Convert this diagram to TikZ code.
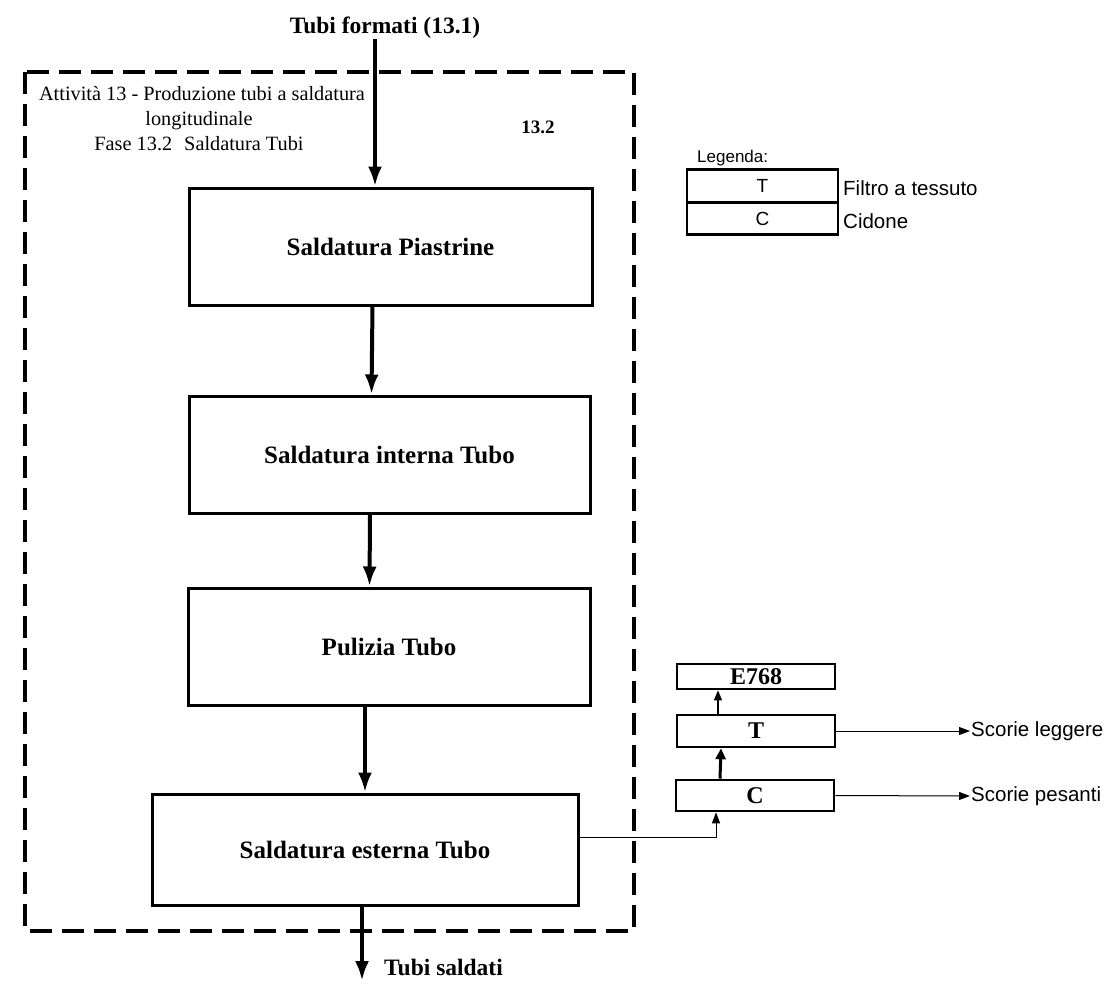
\documentclass[tikz,border=0pt]{standalone}
\usepackage{fontspec}
\setmainfont{Liberation Serif}
\newfontfamily\arialfont{Liberation Sans}
\usetikzlibrary{arrows.meta}
\begin{document}
\begin{tikzpicture}[x=1pt,y=-1pt,
  procbox/.style={draw, line width=3pt, inner sep=0pt, font=\fontsize{25}{28}\selectfont\bfseries},
  smallbox/.style={draw, line width=2.6pt, inner sep=0pt, minimum width=158pt, font=\fontsize{24}{26}\selectfont\bfseries},
  legbox/.style={draw, line width=2.6pt, inner sep=0pt, minimum width=151pt, minimum height=32.5pt, font=\arialfont\fontsize{19}{21}\selectfont},
  flow/.style={line width=4pt, -{Latex[length=20pt,width=14pt]}},
  thinflow/.style={line width=1pt, -{Triangle[length=11pt,width=8pt]}},
  boldlabel/.style={font=\fontsize{23.5}{26}\selectfont\bfseries, inner sep=1pt},
  areatext/.style={font=\fontsize{20.3}{24}\selectfont, anchor=base, inner sep=0pt},
  sanslabel/.style={font=\arialfont\fontsize{20.5}{22}\selectfont, inner sep=1pt}
]
\useasboundingbox (0,0) rectangle (1108,983);

% activity area
\draw[line width=4pt, dash pattern=on 22pt off 10pt] (25,72) rectangle (634,931);
\node[areatext] (act1) at (202,100) {Attività 13 - Produzione tubi a saldatura};
\node[areatext] (act2) at (199,125) {longitudinale};
\node[areatext] (act3) at (199,150) {Fase 13.2\hspace{12pt}Saldatura Tubi};
\node[font=\fontsize{19}{22}\selectfont\bfseries] (phase) at (538,127) {13.2};

% process chain
\node[procbox, minimum width=403pt, minimum height=117pt] (b1) at (390.5,246.5) {Saldatura Piastrine};
\node[procbox, minimum width=401pt, minimum height=117pt] (b2) at (389.5,454.5) {Saldatura interna Tubo};
\node[procbox, minimum width=402pt, minimum height=117pt] (b3) at (389,646.5) {Pulizia Tubo};
\node[procbox, minimum width=426pt, minimum height=111pt] (b4) at (365,849.5) {Saldatura esterna Tubo};

\node[boldlabel, anchor=base] (src) at (385,33) {Tubi formati (13.1)};
\coordinate (inx) at (375,0);
\draw[flow] (src.south -| inx) -- (b1.north -| inx);
\draw[flow] ([xshift=-18pt]b1.south) -- ([xshift=-18pt]b2.north);
\draw[flow] ([xshift=-19.5pt]b2.south) -- ([xshift=-19.5pt]b3.north);
\draw[flow] ([xshift=-24pt]b3.south) -- (b4.north);

\node[boldlabel, anchor=base west] (dst) at (383,975) {Tubi saldati};
\coordinate (sink) at (362,981);
\draw[flow] ([xshift=-3pt]b4.south) -- (sink);

% abatement line
\node[smallbox, minimum height=25pt] (e768) at (756,676.5) {E768};
\node[smallbox, minimum height=32pt] (filt) at (756,731) {T};
\node[smallbox, minimum height=31pt] (cyc) at (755,795.5) {C};

\draw[thinflow] ([yshift=12.5pt]b4.east) -| ([xshift=-39pt]cyc.south);
\draw[line width=3pt, -{Triangle[length=11pt,width=10pt]}] ([xshift=-35pt]cyc.north) -- ([xshift=-35pt]filt.south);
\draw[line width=1.5pt, -{Triangle[length=10pt,width=8pt]}] ([xshift=-38pt]filt.north) -- ([xshift=-38pt]e768.south);

\node[sanslabel, anchor=west] (light) at (970,731) {Scorie leggere};
\node[sanslabel, anchor=west] (heavy) at (970,796) {Scorie pesanti};
\draw[thinflow] (filt.east) -- (light.west);
\draw[thinflow] (cyc.east) -- (heavy.west);

% legend
\node[font=\arialfont\fontsize{17}{20}\selectfont, anchor=base west, inner sep=0pt] (legtitle) at (697,162) {Legenda:};
\node[legbox] (legT) at (762.5,186) {T};
\node[legbox] (legC) at (762.5,218.5) {C};
\node[sanslabel, anchor=base west] (legTtxt) at (842,195) {Filtro a tessuto};
\node[sanslabel, anchor=base west] (legCtxt) at (842,228) {Cidone};
\end{tikzpicture}
\end{document}
